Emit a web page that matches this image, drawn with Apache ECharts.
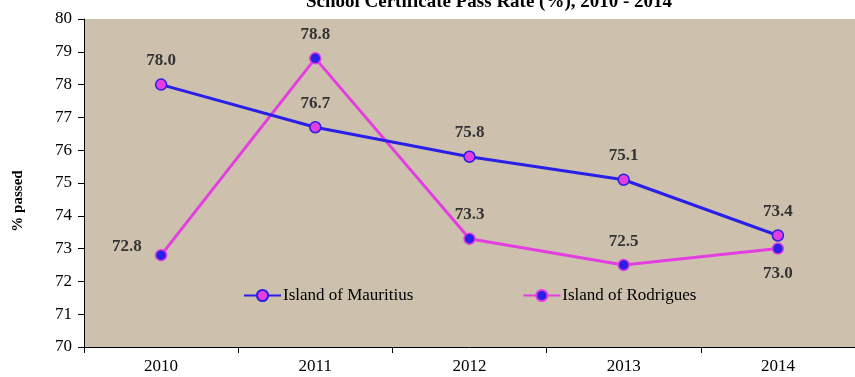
<!DOCTYPE html>
<html>
<head>
<meta charset="utf-8">
<script src="https://cdn.jsdelivr.net/npm/echarts@6/dist/echarts.min.js"></script>
<style>html,body{margin:0;padding:0;background:#fff}#c{width:855px;height:377px}</style>
</head>
<body>
<div id="c"></div>
<script>
var categories = ['2010', '2011', '2012', '2013', '2014'];
var mauritius = [78.0, 76.7, 75.8, 75.1, 73.4];
var rodrigues = [72.8, 78.8, 73.3, 72.5, 73.0];
var titleText = 'School Certificate Pass Rate (%), 2010 - 2014';
var yName = '% passed';

var BLUE = '#2a1fe6';
var MAG = '#e23ee0';
var FONT = '"Liberation Serif", "Times New Roman", serif';

var chart = echarts.init(document.getElementById('c'), null, {renderer: 'canvas'});

function lbl(pos, offset) {
  return {
    show: true, position: pos, offset: offset || [0, 0],
    formatter: function (p) { return p.value.toFixed(1); },
    fontFamily: FONT, fontWeight: 'bold', fontSize: 17, color: '#333'
  };
}

var rodLabelPos = [['left', [-8, -9]], ['top', [0, -4]], ['top', [0, -4]], ['top', [0, -4]], ['bottom', [0, 5]]];

chart.setOption({
  animation: false,
  title: {
    text: titleText, left: 484, textAlign: 'center', top: -12,
    textStyle: {fontFamily: FONT, fontWeight: 'bold', fontSize: 19, color: '#000'}
  },
  grid: {
    left: 84, top: 19, width: 780, height: 328,
    show: true, backgroundColor: '#cdc1ae', borderWidth: 0
  },
  legend: {
    left: 238, top: 282, itemWidth: 37, itemHeight: 14, itemGap: 109,
    textStyle: {fontFamily: FONT, fontSize: 17, color: '#000', padding: [0, 0, 0, -3]},
    data: ['Island of Mauritius', 'Island of Rodrigues']
  },
  graphic: [{
    type: 'text', x: 18, y: 201, rotation: Math.PI / 2,
    style: {text: yName, fontFamily: FONT, fontWeight: 'bold', fontSize: 15, fill: '#000',
      textAlign: 'center', textVerticalAlign: 'middle'}
  }],
  xAxis: {
    type: 'category', data: categories, boundaryGap: true,
    axisLine: {lineStyle: {color: '#000', width: 1}},
    axisTick: {show: true, length: 6, alignWithLabel: false, lineStyle: {color: '#000'}},
    axisLabel: {fontFamily: FONT, fontSize: 17, color: '#000', margin: 11},
    splitLine: {show: false}
  },
  yAxis: {
    type: 'value', min: 70, max: 80, interval: 1,
    axisLine: {show: true, lineStyle: {color: '#000', width: 1}},
    axisTick: {show: true, length: 6, lineStyle: {color: '#000'}},
    axisLabel: {fontFamily: FONT, fontSize: 17, color: '#000', margin: 12},
    splitLine: {show: false}
  },
  series: [
    {
      name: 'Island of Mauritius', type: 'line', data: mauritius,
      symbol: 'circle', symbolSize: 11,
      color: MAG,
      lineStyle: {color: BLUE, width: 3},
      itemStyle: {color: MAG, borderColor: BLUE, borderWidth: 1.5},
      label: lbl('top', [0, -4]), z: 3
    },
    {
      name: 'Island of Rodrigues', type: 'line',
      color: BLUE,
      data: rodrigues.map(function (v, i) {
        return {value: v, label: lbl(rodLabelPos[i][0], rodLabelPos[i][1]),
          itemStyle: {color: BLUE, borderColor: MAG, borderWidth: 1.5}};
      }),
      symbol: 'circle', symbolSize: 11,
      lineStyle: {color: MAG, width: 3},
      itemStyle: {color: BLUE, borderColor: MAG, borderWidth: 1.5},
      z: 2
    }
  ]
});
</script>
</body>
</html>
